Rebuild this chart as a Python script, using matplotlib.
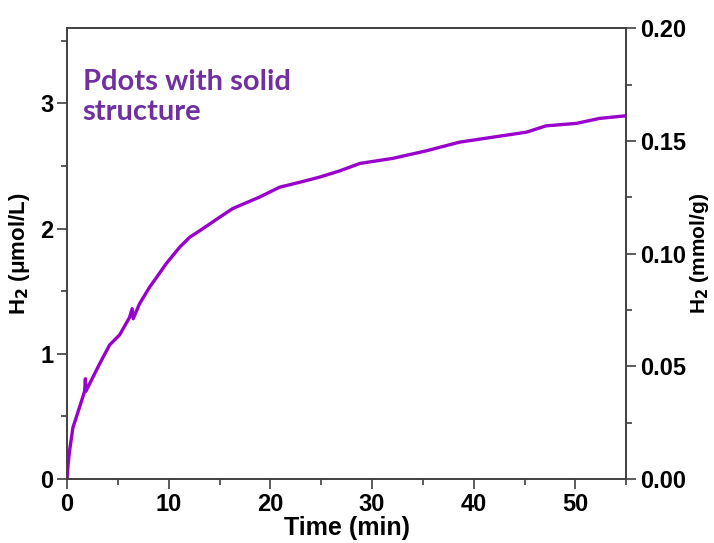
import matplotlib

matplotlib.use("Agg")
import matplotlib.pyplot as plt

# H2 evolution (time in min, H2 in umol/L)
time_min = [0.0, 0.1, 0.25, 0.57, 1.23, 1.72, 1.8, 1.85, 2.21, 3.2, 4.18, 5.16,
            6.14, 6.4, 6.5, 7.13, 8.1, 8.8, 9.75, 11.06, 12.05, 13.0, 15.0,
            16.3, 18.9, 20.9, 22.9, 24.8, 26.8, 28.8, 32.0, 35.3, 38.6, 41.9,
            45.2, 47.1, 50.1, 52.4, 54.9]
h2_umol_l = [0.0, 0.12, 0.23, 0.41, 0.575, 0.70, 0.80, 0.70, 0.76, 0.92, 1.07,
             1.15, 1.29, 1.36, 1.28, 1.40, 1.53, 1.61, 1.72, 1.85, 1.93, 1.98,
             2.09, 2.16, 2.25, 2.33, 2.37, 2.41, 2.46, 2.52, 2.56, 2.62, 2.69,
             2.73, 2.77, 2.82, 2.84, 2.88, 2.90]

left_ticks = [0, 1, 2, 3]
right_ticks = [0.00, 0.05, 0.10, 0.15, 0.20]
x_ticks = [0, 10, 20, 30, 40, 50]

plt.rcParams["font.family"] = ["Liberation Sans", "DejaVu Sans"]
plt.rcParams["font.weight"] = "bold"

fig = plt.figure(figsize=(7.14, 5.43), dpi=100)
ax = fig.add_axes([0.094, 0.118, 0.783, 0.830])
ax.plot(time_min, h2_umol_l, color="#9900CC", lw=2.4)

ax.set_xlim(0, 55)
ax.set_ylim(0, 3.6)
ax.set_xticks(x_ticks)
ax.set_xticks([5, 15, 25, 35, 45, 55], minor=True)
ax.set_yticks(left_ticks)
ax.set_yticks([0.5, 1.5, 2.5, 3.5], minor=True)
ax.set_xlabel("Time (min)", fontsize=18, fontweight="bold", labelpad=0)
ax.set_ylabel("H$_\\mathbf{2}$ (μmol/L)", fontsize=16, fontweight="bold", labelpad=6)

ax2 = ax.twinx()
ax2.set_ylim(0, 0.2)
ax2.set_yticks(right_ticks)
ax2.set_yticks([0.025, 0.075, 0.125, 0.175], minor=True)
ax2.set_yticklabels([f"{v:.2f}" for v in right_ticks])
ax2.set_ylabel("H$_\\mathbf{2}$ (mmol/g)", fontsize=15, fontweight="bold", labelpad=1)

for a in (ax, ax2):
    for s in a.spines.values():
        s.set_color("#404040")
        s.set_linewidth(1.2)
    a.tick_params(which="major", length=7, width=1.2, color="#404040",
                  labelsize=17, pad=3)
    a.tick_params(which="minor", length=4, width=1.2, color="#404040")
ax.tick_params(axis="both", which="both", top=False, right=False)
ax2.tick_params(axis="x", which="both", top=False)

ax.text(0.028, 0.91, "Pdots with solid\nstructure", transform=ax.transAxes,
        fontsize=21, fontweight="bold", color="#7030A0", family="Lato",
        va="top", ha="left", linespacing=1.2)

fig.savefig("out.png", dpi=100)
